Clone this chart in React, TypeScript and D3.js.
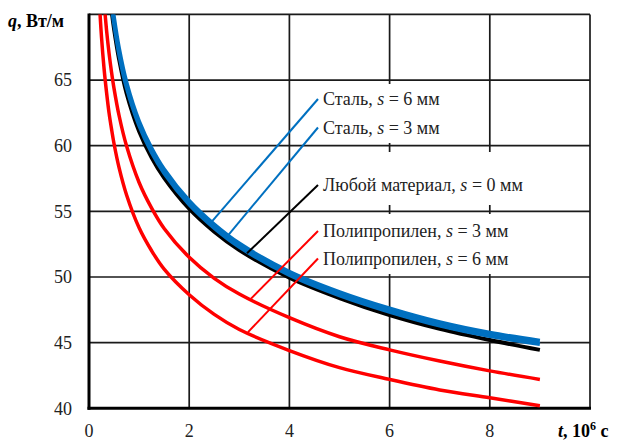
import React from 'react';
import * as d3 from 'd3';

// time, 10^6 s
const T = [0.2, 0.25, 0.3, 0.35, 0.4, 0.45, 0.5, 0.6, 0.75, 1, 1.25, 1.5, 2, 2.5, 3, 4, 5, 6, 7, 8, 9];
// q, W/m
const polypropylene6: (number | null)[] = [71.4, 68.25, 65.9, 64.07, 62.5, 61.26, 60.15, 58.33, 56.25, 53.75, 52.0, 50.6, 48.65, 47.15, 46.0, 44.4, 43.1, 42.2, 41.4, 40.8, 40.2];
const polypropylene3: (number | null)[] = [null, 73.5, 70.9, 68.8, 67.05, 65.6, 64.35, 62.3, 59.97, 57.2, 55.25, 53.7, 51.5, 49.9, 48.7, 46.9, 45.45, 44.45, 43.6, 42.85, 42.2];
const anyMaterial: (number | null)[] = [null, null, null, null, 71.9, 70.3, 68.9, 66.6, 64.0, 61.1, 59.1, 57.55, 55.2, 53.45, 52.05, 49.95, 48.4, 47.1, 46.05, 45.2, 44.45];
const steel3: (number | null)[] = [null, null, null, null, null, 70.7, 69.3, 67.0, 64.45, 61.55, 59.5, 57.92, 55.53, 53.74, 52.3, 50.15, 48.6, 47.35, 46.3, 45.5, 44.9];
const steel6: (number | null)[] = [null, null, null, null, null, 71.2, 69.75, 67.4, 64.8, 61.85, 59.8, 58.2, 55.8, 54.0, 52.55, 50.4, 48.85, 47.6, 46.55, 45.75, 45.15];

const xTicks = [0, 2, 4, 6, 8];
const xGrid = [2, 4, 6, 8, 10];
const yTicks = [40, 45, 50, 55, 60, 65];
const yGrid = [45, 50, 55, 60, 65, 70];

const labelMaterials = ['Сталь', 'Сталь', 'Любой материал', 'Полипропилен', 'Полипропилен'];
const labelThickness = [6, 3, 0, 3, 6];
// t at which each leader line touches its curve
const leaderCurveT = [2.455, 2.755, 3.154, 3.234, 3.174];

const FONT = "'Liberation Serif', 'DejaVu Serif', 'Noto Serif', serif";

export default function App() {
  const W = 624, H = 441;
  const x = d3.scaleLinear().domain([0, 10]).range([89, 590]);
  const y = d3.scaleLinear().domain([40, 70]).range([408.3, 14.4]);

  const line = d3.line<[number, number | null]>()
    .defined(d => d[1] != null)
    .x(d => x(d[0]))
    .y(d => y(d[1] as number))
    .curve(d3.curveCatmullRom.alpha(0.5));

  const pts = (arr: (number | null)[]) => T.map((t, i) => [t, arr[i]] as [number, number | null]);
  const interp = (arr: (number | null)[], t: number) => {
    for (let i = 0; i < T.length - 1; i++) {
      if (t >= T[i] && t <= T[i + 1] && arr[i] != null && arr[i + 1] != null) {
        const f = (t - T[i]) / (T[i + 1] - T[i]);
        return (arr[i] as number) + f * ((arr[i + 1] as number) - (arr[i] as number));
      }
    }
    return 0;
  };

  const series = [
    { data: polypropylene6, color: '#FF0000', w: 3.5 },
    { data: polypropylene3, color: '#FF0000', w: 3.5 },
    { data: anyMaterial, color: '#000000', w: 4 },
    { data: steel3, color: '#0070C0', w: 4 },
    { data: steel6, color: '#0070C0', w: 4 },
  ];
  const labelSeries = [steel6, steel3, anyMaterial, polypropylene3, polypropylene6];
  const labelColors = ['#0070C0', '#0070C0', '#000000', '#FF0000', '#FF0000'];
  const labelBaselines = [105, 133.5, 191, 237, 264.5];
  const labelX = 323;

  const boxes = [
    { x0: 320, x1: 462, y0: 84, y1: 143 },
    { x0: 320, x1: 560, y0: 152, y1: 205 },
    { x0: 320, x1: 545, y0: 214, y1: 274 },
  ];

  const txt = { fontFamily: FONT };

  return (
    <svg width={W} height={H} style={{ position: 'fixed', left: 0, top: 0, background: '#fff', fontFamily: FONT }}>
      <defs>
        <clipPath id="plot">
          <rect x={x(0)} y={y(70)} width={x(10) - x(0)} height={y(40) - y(70)} />
        </clipPath>
      </defs>
      <rect x={0} y={0} width={W} height={H} fill="#fff" />
      {/* grid */}
      {xGrid.map(v => (
        <line key={'gx' + v} x1={x(v)} x2={x(v)} y1={y(40)} y2={y(70)} stroke="#1a1a1a" strokeWidth={1.7} />
      ))}
      {yGrid.map(v => (
        <line key={'gy' + v} x1={x(0)} x2={x(10)} y1={y(v)} y2={y(v)} stroke="#1a1a1a" strokeWidth={1.7} />
      ))}
      {/* label boxes */}
      {boxes.map((b, i) => (
        <rect key={'b' + i} x={b.x0} y={b.y0} width={b.x1 - b.x0} height={b.y1 - b.y0} fill="#fff" />
      ))}
      {/* axes */}
      <line x1={x(0)} x2={x(0)} y1={y(40) + 1.5} y2={y(70) - 0.8} stroke="#000" strokeWidth={3} />
      <line x1={x(0) - 1.5} x2={x(10) + 1} y1={y(40)} y2={y(40)} stroke="#000" strokeWidth={3} />
      {/* curves */}
      <g clipPath="url(#plot)">
        {series.map((s, i) => (
          <path key={'s' + i} d={line(pts(s.data)) || ''} fill="none" stroke={s.color} strokeWidth={s.w} />
        ))}
      </g>
      {/* leaders */}
      {labelSeries.map((arr, i) => {
        const tc = leaderCurveT[i];
        return (
          <line key={'l' + i} x1={labelX - 5} y1={labelBaselines[i] - 6}
            x2={x(tc)} y2={y(interp(arr, tc)) - 1}
            stroke={labelColors[i]} strokeWidth={2} />
        );
      })}
      {/* labels */}
      {labelMaterials.map((m, i) => (
        <text key={'t' + i} x={labelX} y={labelBaselines[i]} fontSize={18} fill="#222" style={txt}>
          {m + ', '}<tspan fontStyle="italic">s</tspan>{' = ' + labelThickness[i] + ' мм'}
        </text>
      ))}
      {/* tick labels */}
      {yTicks.map(v => (
        <text key={'yt' + v} x={72} y={y(v) + 6.3} fontSize={18} textAnchor="end" fill="#222" style={txt}>{v}</text>
      ))}
      {xTicks.map(v => (
        <text key={'xt' + v} x={x(v)} y={437} fontSize={18} textAnchor="middle" fill="#222" style={txt}>{v}</text>
      ))}
      {/* axis titles */}
      <text x={8} y={27} fontSize={18} fontWeight="bold" fill="#000" style={txt}>
        <tspan fontStyle="italic">q</tspan>, Вт/м
      </text>
      <text x={558} y={437} fontSize={18} fontWeight="bold" fill="#000" style={txt}>
        <tspan fontStyle="italic">t</tspan>, 10<tspan fontSize={12} dy={-7}>6</tspan><tspan dy={7}> с</tspan>
      </text>
    </svg>
  );
}
